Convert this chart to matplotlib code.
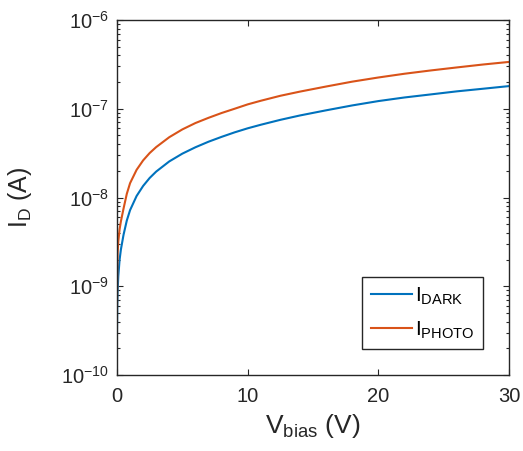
import matplotlib
matplotlib.use('Agg')
import matplotlib.pyplot as plt
from matplotlib.ticker import LogLocator, NullFormatter
import numpy as np

plt.rcParams['font.family'] = ['Liberation Sans', 'DejaVu Sans']
plt.rcParams['mathtext.fontset'] = 'custom'
plt.rcParams['mathtext.rm'] = 'Liberation Sans'
plt.rcParams['mathtext.it'] = 'Liberation Sans'

# bias voltage (V)
v_bias = [0, 0.02, 0.05, 0.1, 0.2, 0.3, 0.5, 0.75, 1, 1.5, 2, 2.5, 3, 4, 5,
          6, 7, 8, 9, 10, 11, 12.5, 14, 16, 18, 20, 22, 24, 26, 28, 30]
# dark current (A)
i_dark = [3e-10, 6e-10, 9e-10, 1.3e-9, 2e-9, 2.6e-9, 3.8e-9, 5.5e-9, 7.2e-9,
          1.04e-8, 1.35e-8, 1.66e-8, 1.96e-8, 2.55e-8, 3.12e-8, 3.68e-8, 4.25e-8,
          4.82e-8, 5.42e-8, 6.02e-8, 6.6e-8, 7.5e-8, 8.4e-8, 9.6e-8, 1.09e-7,
          1.22e-7, 1.34e-7, 1.45e-7, 1.57e-7, 1.68e-7, 1.8e-7]
# photo current (A)
i_photo = [6e-10, 1.6e-9, 2.4e-9, 3.2e-9, 4.4e-9, 5.4e-9, 7.5e-9, 1.1e-8,
           1.45e-8, 2.05e-8, 2.62e-8, 3.17e-8, 3.7e-8, 4.78e-8, 5.85e-8, 6.9e-8,
           7.9e-8, 8.95e-8, 1.0e-7, 1.12e-7, 1.23e-7, 1.4e-7, 1.56e-7, 1.78e-7,
           2.02e-7, 2.25e-7, 2.48e-7, 2.7e-7, 2.92e-7, 3.15e-7, 3.37e-7]

fig = plt.figure(figsize=(5.23, 4.51), dpi=100)
ax = fig.add_axes([117/523, 1-375/451, 392/523, 355/451])

ax.plot(v_bias, i_dark, color='#0072BD', lw=1.5, label=r'I$_{\mathrm{DARK}}$')
ax.plot(v_bias, i_photo, color='#D95319', lw=1.5, label=r'I$_{\mathrm{PHOTO}}$')

ax.set_yscale('log')
ax.set_xlim(0, 30)
ax.set_ylim(1e-10, 1e-6)
ax.set_xticks([0, 10, 20, 30])
ax.yaxis.set_major_locator(LogLocator(base=10, numticks=10))
ax.yaxis.set_minor_locator(LogLocator(base=10, subs=np.arange(2, 10), numticks=10))
ax.yaxis.set_minor_formatter(NullFormatter())
ax.xaxis.offsetText.set_visible(False)
ax.yaxis.offsetText.set_visible(False)

ax.tick_params(which='both', direction='in', top=True, right=True,
               colors='#262626', labelcolor='#262626', labelsize=14.5)
ax.tick_params(which='major', length=4, width=0.8)
ax.tick_params(which='minor', length=2.5, width=0.8)
ax.tick_params(axis='x', which='major', pad=9)
ax.tick_params(axis='y', which='major', pad=6)
for s in ax.spines.values():
    s.set_color('#262626')
    s.set_linewidth(1.0)

ax.set_xlabel(r'V$_{\mathrm{bias}}$ (V)', fontsize=19, color='#262626', labelpad=4)
ax.set_ylabel(r'I$_{\mathrm{D}}$ (A)', fontsize=18, color='#262626', labelpad=19)

leg = ax.legend(loc='lower right', bbox_to_anchor=(0.934, 0.073), borderaxespad=0,
                fontsize=15, handlelength=2.0, handletextpad=0.15,
                fancybox=False, framealpha=1, edgecolor='#262626',
                borderpad=0.4, labelspacing=0.6)
leg.get_frame().set_linewidth(1.0)

plt.savefig('out.png', dpi=100)
